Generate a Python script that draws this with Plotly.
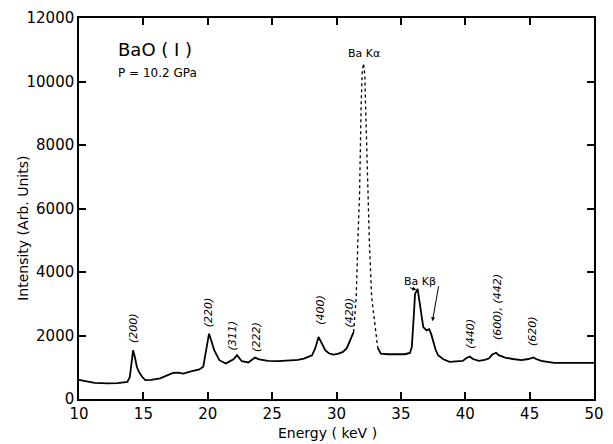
import plotly.graph_objects as go

# ---- data ----
# background + low-energy diffraction peaks (solid, below the Ba Kα line)
energy_low = [10.0, 10.5, 11.2, 12.2, 13.0, 13.76, 13.95, 14.1, 14.2, 14.35, 14.5, 14.65, 14.9,
              15.15, 15.6, 16.3, 17.0, 17.3, 17.7, 18.1, 18.7, 19.35, 19.65, 19.85, 20.1, 20.3,
              20.5, 20.9, 21.4, 21.63, 22.0, 22.27, 22.45, 22.65, 23.16, 23.4, 23.66, 24.0,
              24.68, 25.5, 26.2, 27.0, 27.47, 28.1, 28.35, 28.6, 28.8, 29.12, 29.4, 29.75,
              30.1, 30.5, 30.8, 31.03, 31.2, 31.33]
intensity_low = [600, 560, 510, 490, 500, 540, 700, 1200, 1535, 1300, 1000, 860, 700,
                 595, 600, 650, 760, 825, 830, 800, 870, 930, 1013, 1500, 2058, 1800,
                 1535, 1222, 1117, 1170, 1250, 1378, 1300, 1190, 1150, 1230, 1305, 1250,
                 1200, 1190, 1200, 1230, 1274, 1378, 1600, 1952, 1800, 1535, 1440, 1399,
                 1420, 1482, 1600, 1848, 2000, 2109]

# Ba Kα fluorescence line (sparse dots in the original)
energy_ka = [31.33, 31.45, 31.53, 31.66, 31.79, 31.92, 32.0, 32.1, 32.2, 32.25, 32.42,
             32.55, 32.73, 32.9, 33.06, 33.2]
intensity_ka = [2109, 2800, 3206, 4982, 6450, 9368, 10300, 10570, 10200, 9368, 6450,
                4982, 3206, 2600, 1950, 1620]

# above the Kα line: Kβ and high-energy diffraction peaks
energy_high = [33.2, 33.44, 34.0, 34.6, 35.3, 35.7, 35.85, 36.0, 36.1, 36.3, 36.48, 36.6,
               36.74, 36.99, 37.2, 37.35, 37.5, 37.7, 37.89, 38.3, 38.78, 39.3, 39.8, 40.1,
               40.35, 40.6, 41.06, 41.5, 41.83, 42.1, 42.4, 42.6, 43.1, 43.7, 44.36, 44.9,
               45.3, 45.5, 45.9, 46.9, 48.0, 49.0, 50.0]
intensity_high = [1620, 1431, 1410, 1400, 1410, 1450, 1640, 2600, 3310, 3467, 3000, 2600,
                  2266, 2162, 2200, 2050, 1848, 1550, 1378, 1250, 1170, 1180, 1200, 1290,
                  1340, 1260, 1200, 1230, 1274, 1400, 1455, 1380, 1305, 1260, 1222, 1260,
                  1310, 1260, 1200, 1138, 1150, 1140, 1138]

peak_labels = ["(200)", "(220)", "(311)", "(222)", "(400)", "(420)", "(440)",
               "(600), (442)", "(620)"]
peak_label_x = [14.19, 20.06, 21.94, 23.79, 28.69, 31.03, 40.42, 42.46, 45.26]
peak_label_y = [2235, 2716, 1994, 1942, 2800, 2716, 2048, 2893, 2142]

x_ticks = [10, 15, 20, 25, 30, 35, 40, 45, 50]
y_ticks = [0, 2000, 4000, 6000, 8000, 10000, 12000]

FONT = "DejaVu Sans"

fig = go.Figure()
fig.add_trace(go.Scatter(x=energy_low, y=intensity_low, mode="lines",
                         line=dict(color="black", width=1.8), showlegend=False))
fig.add_trace(go.Scatter(x=energy_ka, y=intensity_ka, mode="lines",
                         line=dict(color="black", width=1.3, dash="dot"), showlegend=False))
fig.add_trace(go.Scatter(x=energy_high, y=intensity_high, mode="lines",
                         line=dict(color="black", width=1.8), showlegend=False))

ann = []
for t, x, y in zip(peak_labels, peak_label_x, peak_label_y):
    ann.append(dict(x=x, y=y, text="<i>" + t + "</i>", textangle=-90, showarrow=False,
                    xanchor="center", yanchor="middle",
                    font=dict(size=11, family=FONT, color="black")))

ann += [
    dict(x=32.17, y=10881, text="Ba Kα", showarrow=False, xanchor="center", yanchor="middle",
         font=dict(size=11, family=FONT, color="black")),
    dict(x=36.49, y=3706, text="Ba Kβ", showarrow=False, xanchor="center", yanchor="middle",
         font=dict(size=11, family=FONT, color="black")),
    dict(x=36.2, y=3440, ax=35.6, ay=3520, axref="x", ayref="y", text="",
         showarrow=True, arrowhead=2, arrowsize=0.8, arrowwidth=1, arrowcolor="black"),
    dict(x=37.45, y=2450, ax=37.95, ay=3600, axref="x", ayref="y", text="",
         showarrow=True, arrowhead=2, arrowsize=0.8, arrowwidth=1, arrowcolor="black"),
    dict(xref="paper", yref="paper", x=0.0718, y=0.9165, xanchor="left", yanchor="middle",
         text="BaO ( I )", showarrow=False,
         font=dict(size=18, family=FONT, color="black")),
    dict(xref="paper", yref="paper", x=0.0718, y=0.856, xanchor="left", yanchor="middle",
         text="P = 10.2 GPa", showarrow=False,
         font=dict(size=12, family=FONT, color="black")),
    dict(xref="paper", yref="paper", x=0.482, y=-0.0905, xanchor="center", yanchor="middle",
         text="Energy ( keV )",
         showarrow=False, font=dict(size=14, family=FONT, color="black")),
    dict(xref="paper", yref="paper", x=-0.109, y=0.449, xanchor="center", yanchor="middle",
         text="Intensity (Arb. Units)",
         textangle=-90, showarrow=False, font=dict(size=14, family=FONT, color="black")),
]

axis_common = dict(showline=True, linecolor="black", linewidth=1.5, mirror="ticks",
                   ticks="inside", ticklen=7, tickwidth=1.5, tickcolor="black",
                   showgrid=False, zeroline=False,
                   tickfont=dict(size=15, family=FONT, color="black"))

fig.update_layout(
    width=613, height=444,
    margin=dict(l=79, r=9, t=16, b=45),
    paper_bgcolor="white", plot_bgcolor="white",
    xaxis=dict(range=[10, 50], tickvals=x_ticks, **axis_common),
    yaxis=dict(range=[0, 12000], tickvals=y_ticks, tickformat="d", **axis_common),
    annotations=ann,
)

fig.write_html("out.html")
